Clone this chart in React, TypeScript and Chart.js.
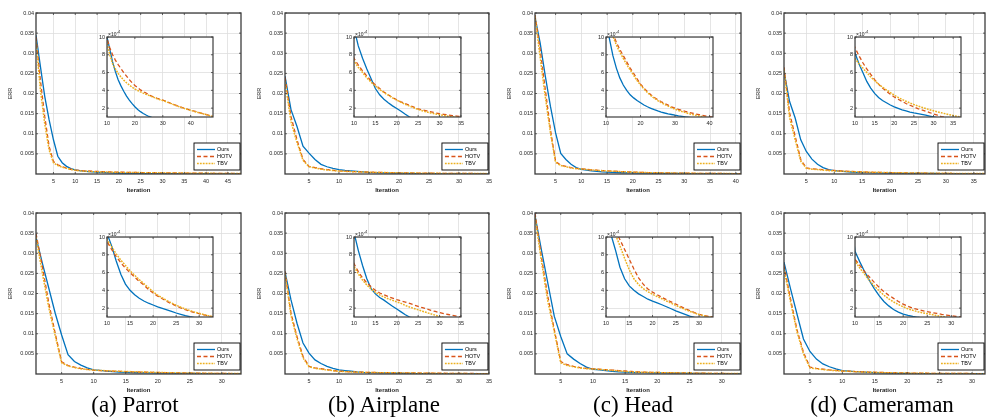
import React, { useEffect, useRef } from 'react';
import { Chart, registerables } from 'chart.js';

Chart.register(...registerables);

// ---------------- data ----------------
const SERIES_NAMES = ['Ours', 'HOTV', 'TBV'];
const ERR_TICKS = [0.005, 0.01, 0.015, 0.02, 0.025, 0.03, 0.035, 0.04];
const INSET_Y_TICKS = [0.0002, 0.0004, 0.0006, 0.0008, 0.001];
const CAPTIONS = ['(a) Parrot', '(b) Airplane', '(c) Head', '(d) Cameraman'];

// (a) Parrot, top row
const parrotTopOurs = [0.0345, 0.0268, 0.0193, 0.0135, 0.0085, 0.0044, 0.0028, 0.0019, 0.00135, 0.001, 0.00086, 0.00072, 0.00061, 0.00052, 0.00045, 0.00039, 0.000335, 0.00029, 0.00025, 0.000215, 0.000185, 0.00016, 0.00014, 0.000122, 0.000106, 0.000095, 0.000086, 0.000079, 0.000073, 0.000068, 0.000064, 0.00006, 0.000057, 0.000054, 0.000051, 0.000049, 0.000047, 0.000045, 0.000043, 0.000041, 0.000039, 0.000038, 0.000036, 0.000035, 0.000034, 0.000033, 0.000032, 0.000031];
const parrotTopHotv = [0.034, 0.0234, 0.0143, 0.0069, 0.0031, 0.0023, 0.0018, 0.00145, 0.00118, 0.00098, 0.00088, 0.0008, 0.00074, 0.00069, 0.000645, 0.0006, 0.00056, 0.00052, 0.000485, 0.000455, 0.00043, 0.000405, 0.000385, 0.00037, 0.00035, 0.000335, 0.000322, 0.00031, 0.0003, 0.00029, 0.000278, 0.000265, 0.000252, 0.00024, 0.000228, 0.000216, 0.000205, 0.000195, 0.000186, 0.000177, 0.000168, 0.00016, 0.00015, 0.000142, 0.000133, 0.000124, 0.000114, 0.000105];
const parrotTopTbv = [0.033, 0.021, 0.0125, 0.006, 0.0028, 0.0021, 0.0017, 0.0014, 0.00112, 0.00093, 0.0008, 0.0007, 0.00064, 0.00059, 0.00055, 0.000515, 0.000485, 0.00046, 0.000435, 0.000415, 0.000398, 0.000382, 0.000368, 0.000355, 0.000343, 0.00033, 0.000318, 0.000306, 0.000295, 0.000285, 0.000274, 0.000262, 0.00025, 0.000238, 0.000226, 0.000214, 0.000203, 0.000193, 0.000184, 0.000175, 0.000166, 0.000157, 0.000148, 0.00014, 0.000131, 0.000122, 0.000113, 0.000104];

// (b) Airplane, top row
const airplaneTopOurs = [0.0243, 0.016, 0.0118, 0.0069, 0.0052, 0.0036, 0.0024, 0.0018, 0.0014, 0.0011, 0.0009, 0.00076, 0.00064, 0.00053, 0.00042, 0.00035, 0.0003, 0.00026, 0.000225, 0.000195, 0.000165, 0.00013, 0.0001, 0.00008, 0.000068, 0.00006, 0.000054, 0.000049, 0.000045, 0.000042, 0.000039, 0.000037, 0.000035, 0.000033, 0.000031];
const airplaneTopHotv = [0.024, 0.0143, 0.0085, 0.0036, 0.0019, 0.0016, 0.0013, 0.0011, 0.00092, 0.00076, 0.000685, 0.00062, 0.00056, 0.000505, 0.00046, 0.00042, 0.000382, 0.00035, 0.00032, 0.000293, 0.00027, 0.00025, 0.00023, 0.00021, 0.00019, 0.00018, 0.00017, 0.000158, 0.000147, 0.000137, 0.00013, 0.000123, 0.000116, 0.00011, 0.000104];
const airplaneTopTbv = [0.023, 0.013, 0.0078, 0.0034, 0.0018, 0.0015, 0.0012, 0.001, 0.00087, 0.00073, 0.00066, 0.0006, 0.00054, 0.00049, 0.00045, 0.00041, 0.000375, 0.000345, 0.000315, 0.00029, 0.000265, 0.000242, 0.000222, 0.000203, 0.000185, 0.00017, 0.000157, 0.000145, 0.000134, 0.000125, 0.000117, 0.000109, 0.000102, 0.000096, 0.00009];

// (c) Head, top row
const headTopOurs = [0.039, 0.0326, 0.0243, 0.0168, 0.0102, 0.0051, 0.0036, 0.0024, 0.0016, 0.00118, 0.00098, 0.00079, 0.00065, 0.00054, 0.00046, 0.0004, 0.00035, 0.000315, 0.000285, 0.00026, 0.000235, 0.000215, 0.000198, 0.000182, 0.000168, 0.000155, 0.000145, 0.000136, 0.000128, 0.00012, 0.000113, 0.000107, 0.000101, 0.000096, 0.000091, 0.000087, 0.000083, 0.000079, 0.000076, 0.000073, 0.00007];
const headTopHotv = [0.0395, 0.0309, 0.021, 0.011, 0.0031, 0.0022, 0.0019, 0.0016, 0.0014, 0.00128, 0.00116, 0.00104, 0.00094, 0.00086, 0.00079, 0.00072, 0.00065, 0.00059, 0.00053, 0.00047, 0.000425, 0.000385, 0.00035, 0.00032, 0.000295, 0.000272, 0.000252, 0.000233, 0.000215, 0.0002, 0.000186, 0.000174, 0.000162, 0.000152, 0.000143, 0.000134, 0.000126, 0.000118, 0.00011, 0.000103, 0.000097];
const headTopTbv = [0.0392, 0.029, 0.0192, 0.0102, 0.0029, 0.0021, 0.0018, 0.0015, 0.0013, 0.00125, 0.00113, 0.00101, 0.00091, 0.00083, 0.00076, 0.00069, 0.00063, 0.00057, 0.00051, 0.00046, 0.000415, 0.000375, 0.00034, 0.00031, 0.000285, 0.000262, 0.000241, 0.000222, 0.000204, 0.000188, 0.000174, 0.000161, 0.000149, 0.000138, 0.000128, 0.000119, 0.000111, 0.000103, 0.000096, 0.00009, 0.000085];

// (d) Cameraman, top row
const cameraTopOurs = [0.0255, 0.018, 0.0139, 0.0085, 0.0056, 0.0037, 0.0024, 0.0016, 0.0011, 0.00082, 0.0007, 0.0006, 0.0005, 0.000425, 0.000365, 0.00032, 0.000285, 0.00026, 0.000235, 0.000215, 0.000197, 0.00018, 0.000168, 0.000156, 0.000146, 0.000138, 0.00013, 0.00012, 0.00011, 0.0001, 0.000092, 0.000085, 0.000079, 0.000073, 0.000068, 0.000064, 0.00006];
const cameraTopHotv = [0.0265, 0.0152, 0.0094, 0.0036, 0.0015, 0.0013, 0.0012, 0.0011, 0.00098, 0.00088, 0.00079, 0.00071, 0.00064, 0.00058, 0.00052, 0.00047, 0.000425, 0.00039, 0.000355, 0.000325, 0.0003, 0.000275, 0.000252, 0.000232, 0.000213, 0.000195, 0.00018, 0.000165, 0.00015, 0.000135, 0.00012, 0.000105, 0.000095, 0.000087, 0.00008, 0.000074, 0.000069];
const cameraTopTbv = [0.026, 0.014, 0.0085, 0.0032, 0.0014, 0.0012, 0.0011, 0.00095, 0.00085, 0.00076, 0.0007, 0.00065, 0.0006, 0.00055, 0.00051, 0.00047, 0.000435, 0.000405, 0.000375, 0.000345, 0.00032, 0.000297, 0.000277, 0.000258, 0.00024, 0.000224, 0.00021, 0.000195, 0.000182, 0.00017, 0.000158, 0.000147, 0.000136, 0.000126, 0.000116, 0.000107, 0.000099];

// (a) Parrot, bottom row
const parrotBotOurs = [0.034, 0.0275, 0.0213, 0.0151, 0.0097, 0.0048, 0.0031, 0.0022, 0.0015, 0.00104, 0.0009, 0.00073, 0.00058, 0.00047, 0.0004, 0.00035, 0.00031, 0.00028, 0.000255, 0.000235, 0.000215, 0.000198, 0.00018, 0.000162, 0.000145, 0.00013, 0.000115, 0.000103, 0.000093, 0.000085, 0.000078, 0.000072, 0.000066];
const parrotBotHotv = [0.0349, 0.0266, 0.0176, 0.0101, 0.003, 0.0021, 0.0017, 0.0014, 0.00115, 0.00095, 0.00086, 0.00078, 0.00071, 0.00065, 0.0006, 0.00055, 0.0005, 0.00046, 0.00041, 0.00037, 0.000335, 0.000305, 0.000275, 0.00025, 0.000225, 0.000202, 0.000182, 0.000165, 0.00015, 0.000138, 0.000125, 0.000112, 0.0001];
const parrotBotTbv = [0.034, 0.025, 0.0165, 0.0095, 0.0028, 0.002, 0.0016, 0.0013, 0.0011, 0.00097, 0.00089, 0.00081, 0.00074, 0.00068, 0.00062, 0.00057, 0.00052, 0.000475, 0.00043, 0.000385, 0.000345, 0.000315, 0.000285, 0.000258, 0.000232, 0.00021, 0.00019, 0.000172, 0.000155, 0.000142, 0.000128, 0.000115, 0.000102];

// (b) Airplane, bottom row
const airplaneBotOurs = [0.0254, 0.0184, 0.0126, 0.0077, 0.0052, 0.0035, 0.0026, 0.0019, 0.0014, 0.00105, 0.00085, 0.00068, 0.00053, 0.00042, 0.00036, 0.00032, 0.00029, 0.000255, 0.00022, 0.00019, 0.000158, 0.000125, 0.0001, 0.000085, 0.000075, 0.000067, 0.00006, 0.000055, 0.00005, 0.000046, 0.000043, 0.00004, 0.000038, 0.000036, 0.000034];
const airplaneBotHotv = [0.0255, 0.0151, 0.0093, 0.0044, 0.0019, 0.0015, 0.0013, 0.0011, 0.00085, 0.0007, 0.00061, 0.00054, 0.000485, 0.00044, 0.0004, 0.00037, 0.00035, 0.00033, 0.000312, 0.000295, 0.00028, 0.000268, 0.000252, 0.000236, 0.00022, 0.000205, 0.00019, 0.000175, 0.000162, 0.00015, 0.000138, 0.000128, 0.000118, 0.000109, 0.0001];
const airplaneBotTbv = [0.025, 0.0145, 0.0088, 0.004, 0.0018, 0.0014, 0.0012, 0.001, 0.00082, 0.00067, 0.000585, 0.000515, 0.00046, 0.000415, 0.000378, 0.000348, 0.000325, 0.000305, 0.000287, 0.00027, 0.000253, 0.00023, 0.000212, 0.000196, 0.00018, 0.000165, 0.00015, 0.000135, 0.00012, 0.000105, 0.000095, 0.000088, 0.000082, 0.000077, 0.000072];

// (c) Head, bottom row
const headBotOurs = [0.0394, 0.0308, 0.0225, 0.0143, 0.0093, 0.005, 0.0037, 0.0026, 0.0017, 0.00118, 0.00104, 0.00086, 0.00066, 0.00053, 0.00045, 0.0004, 0.00036, 0.00033, 0.0003, 0.000278, 0.000258, 0.000238, 0.000215, 0.000193, 0.00017, 0.00015, 0.00013, 0.00011, 0.000095, 0.000085, 0.000078, 0.000072, 0.000067];
const headBotHotv = [0.04, 0.029, 0.0192, 0.011, 0.0031, 0.0023, 0.0019, 0.0016, 0.0014, 0.00128, 0.00118, 0.00108, 0.00097, 0.00086, 0.00075, 0.00064, 0.00054, 0.00047, 0.000415, 0.00038, 0.00035, 0.000322, 0.000295, 0.00027, 0.000245, 0.00022, 0.000195, 0.000172, 0.00015, 0.00013, 0.000117, 0.000108, 0.0001];
const headBotTbv = [0.039, 0.028, 0.018, 0.0105, 0.0028, 0.0021, 0.0018, 0.0015, 0.0013, 0.00125, 0.00114, 0.00103, 0.0009, 0.00076, 0.00063, 0.00053, 0.000465, 0.00042, 0.000385, 0.000355, 0.00033, 0.000305, 0.00028, 0.000255, 0.00023, 0.000207, 0.000185, 0.000164, 0.000145, 0.000128, 0.000114, 0.000102, 0.000093];

// (d) Cameraman, bottom row
const cameraBotOurs = [0.0278, 0.0212, 0.0149, 0.0087, 0.0056, 0.0037, 0.0025, 0.0018, 0.0013, 0.00084, 0.00072, 0.00061, 0.00051, 0.00042, 0.00034, 0.000275, 0.000225, 0.000185, 0.000155, 0.000133, 0.000118, 0.000106, 0.000097, 0.00009, 0.000084, 0.000079, 0.000074, 0.00007, 0.000066, 0.000063, 0.00006, 0.000057];
const cameraBotHotv = [0.027, 0.0187, 0.011, 0.0054, 0.0017, 0.0014, 0.0012, 0.001, 0.00088, 0.00075, 0.00068, 0.00061, 0.00055, 0.00049, 0.000435, 0.000385, 0.000345, 0.00031, 0.000275, 0.000245, 0.00022, 0.0002, 0.000185, 0.000172, 0.00016, 0.00015, 0.00014, 0.00013, 0.000122, 0.000114, 0.000106, 0.0001];
const cameraBotTbv = [0.026, 0.018, 0.0105, 0.005, 0.0015, 0.0013, 0.0011, 0.00095, 0.00083, 0.00073, 0.00065, 0.00058, 0.00051, 0.00045, 0.000395, 0.000345, 0.000305, 0.00027, 0.00024, 0.000215, 0.000192, 0.000175, 0.00016, 0.000148, 0.000137, 0.000127, 0.000115, 0.000105, 0.000097, 0.00009, 0.000084, 0.000078];

// tick labels
const X5_45 = [5, 10, 15, 20, 25, 30, 35, 40, 45];
const X5_40 = [5, 10, 15, 20, 25, 30, 35, 40];
const X5_35 = [5, 10, 15, 20, 25, 30, 35];
const X5_30 = [5, 10, 15, 20, 25, 30];
const IX_10_40 = [10, 20, 30, 40];
const IX_10_35 = [10, 15, 20, 25, 30, 35];
const IX_10_30 = [10, 15, 20, 25, 30];

const PANELS = [
  { series: [parrotTopOurs, parrotTopHotv, parrotTopTbv], xTicks: X5_45, insetTicks: IX_10_40 },
  { series: [airplaneTopOurs, airplaneTopHotv, airplaneTopTbv], xTicks: X5_35, insetTicks: IX_10_35 },
  { series: [headTopOurs, headTopHotv, headTopTbv], xTicks: X5_40, insetTicks: IX_10_40 },
  { series: [cameraTopOurs, cameraTopHotv, cameraTopTbv], xTicks: X5_35, insetTicks: IX_10_35 },
  { series: [parrotBotOurs, parrotBotHotv, parrotBotTbv], xTicks: X5_30, insetTicks: IX_10_30 },
  { series: [airplaneBotOurs, airplaneBotHotv, airplaneBotTbv], xTicks: X5_35, insetTicks: IX_10_35 },
  { series: [headBotOurs, headBotHotv, headBotTbv], xTicks: X5_30, insetTicks: IX_10_30 },
  { series: [cameraBotOurs, cameraBotHotv, cameraBotTbv], xTicks: X5_30, insetTicks: IX_10_30 },
];

// ---------------- layout & style ----------------
const PLOT_X = [[36, 241], [285, 490], [535, 741], [784, 985]];
const PLOT_Y = [[13, 174], [213, 374]];
const INSET_X = [[107, 213], [354, 463], [606, 713], [855, 961]];
const INSET_Y = [[37, 117], [237, 317]];
const CAPTION_X = [135, 384, 633, 882];
const CAPTION_TOP = 393;

const LINE_STYLES = [
  { color: '#0072BD', dash: [] as number[], order: 3, width: 1.3 },
  { color: '#D95319', dash: [4, 2.5], order: 2, width: 1.3 },
  { color: '#EDB120', dash: [1.8, 1.1], order: 1, width: 1.5 },
];
const FONT = 'Liberation Sans, Arial, Helvetica, sans-serif';
const TEXT_COLOR = '#262626';
const GRID_COLOR = '#dedede';
const BOX_COLOR = '#3c3c3c';

function makeDatasets(series: number[][]) {
  return series.map((arr, i) => ({
    label: SERIES_NAMES[i],
    data: arr.map((v, k) => ({ x: k + 1, y: v })),
    borderColor: LINE_STYLES[i].color,
    backgroundColor: LINE_STYLES[i].color,
    borderDash: LINE_STYLES[i].dash,
    borderWidth: LINE_STYLES[i].width,
    pointRadius: 0,
    tension: 0,
    fill: false,
    order: LINE_STYLES[i].order,
    clip: 0,
  }));
}

function framePlugin(kind: 'main' | 'inset') {
  return {
    id: 'frame_' + kind,
    beforeDraw(chart: any) {
      if (kind !== 'inset') return;
      const { ctx, chartArea: a } = chart;
      ctx.save();
      ctx.fillStyle = '#ffffff';
      ctx.fillRect(a.left, a.top, a.right - a.left, a.bottom - a.top);
      ctx.restore();
    },
    afterDatasetsDraw(chart: any) {
      const { ctx, chartArea: a } = chart;
      ctx.save();
      ctx.strokeStyle = BOX_COLOR;
      ctx.lineWidth = kind === 'main' ? 1.3 : 1.2;
      ctx.strokeRect(a.left, a.top, a.right - a.left, a.bottom - a.top);
      ctx.lineWidth = 0.8;
      const tl = 2;
      const xs = chart.scales.x;
      const ys = chart.scales.y;
      ctx.beginPath();
      xs.ticks.forEach((t: any) => {
        const px = xs.getPixelForValue(t.value);
        ctx.moveTo(px, a.bottom); ctx.lineTo(px, a.bottom - tl);
        ctx.moveTo(px, a.top); ctx.lineTo(px, a.top + tl);
      });
      ys.ticks.forEach((t: any) => {
        const py = ys.getPixelForValue(t.value);
        ctx.moveTo(a.left, py); ctx.lineTo(a.left + tl, py);
        ctx.moveTo(a.right, py); ctx.lineTo(a.right - tl, py);
      });
      ctx.stroke();
      ctx.restore();
    },
    afterDraw(chart: any) {
      const { ctx, chartArea: a } = chart;
      ctx.save();
      if (kind === 'main') {
        const bw = 46, bh = 27;
        const bx = a.right - 1 - bw;
        const by = a.bottom - 4 - bh;
        ctx.fillStyle = '#ffffff';
        ctx.fillRect(bx, by, bw, bh);
        ctx.strokeStyle = '#000000';
        ctx.lineWidth = 0.9;
        ctx.strokeRect(bx, by, bw, bh);
        chart.data.datasets.forEach((ds: any, i: number) => {
          const y = by + 6.5 + i * 7;
          ctx.strokeStyle = ds.borderColor;
          ctx.lineWidth = ds.borderWidth;
          ctx.setLineDash(ds.borderDash || []);
          ctx.beginPath();
          ctx.moveTo(bx + 3, y);
          ctx.lineTo(bx + 21, y);
          ctx.stroke();
          ctx.setLineDash([]);
          ctx.fillStyle = '#000000';
          ctx.font = `5.5px ${FONT}`;
          ctx.textBaseline = 'middle';
          ctx.textAlign = 'left';
          ctx.fillText(ds.label, bx + 23, y);
        });
      } else {
        ctx.fillStyle = TEXT_COLOR;
        ctx.textBaseline = 'alphabetic';
        ctx.textAlign = 'left';
        ctx.font = `5px ${FONT}`;
        const base = '\u00d710';
        ctx.fillText(base, a.left + 1, a.top - 1.5);
        const w = ctx.measureText(base).width;
        ctx.font = `4px ${FONT}`;
        ctx.fillText('-4', a.left + 1 + w + 0.3, a.top - 4);
      }
      ctx.restore();
    },
  };
}

function mainConfig(p: any) {
  const n = p.series[0].length;
  return {
    type: 'line',
    data: { datasets: makeDatasets(p.series) },
    options: {
      animation: false,
      responsive: false,
      events: [],
      layout: { padding: { top: 6, right: 6, left: 0, bottom: 0 } },
      plugins: { legend: { display: false }, tooltip: { enabled: false }, title: { display: false } },
      scales: {
        x: {
          type: 'linear', min: 1, max: n,
          afterBuildTicks: (s: any) => { s.ticks = p.xTicks.map((v: number) => ({ value: v })); },
          afterFit: (s: any) => { s.height = 20; },
          grid: { color: GRID_COLOR, lineWidth: 0.8, drawTicks: false },
          border: { display: false },
          ticks: { font: { family: FONT, size: 5.5 }, color: TEXT_COLOR, padding: 4, maxRotation: 0, autoSkip: false, callback: (v: number) => String(v) },
          title: { display: true, text: 'Iteration', color: TEXT_COLOR, font: { family: FONT, size: 6, weight: 'bold' }, padding: 0 },
        },
        y: {
          type: 'linear', min: 0, max: 0.04,
          afterBuildTicks: (s: any) => { s.ticks = ERR_TICKS.map((v) => ({ value: v })); },
          afterFit: (s: any) => { s.width = 36; },
          grid: { color: GRID_COLOR, lineWidth: 0.8, drawTicks: false },
          border: { display: false },
          ticks: { font: { family: FONT, size: 5.5 }, color: TEXT_COLOR, padding: 2, autoSkip: false, callback: (v: number) => String(Number(v.toFixed(3))) },
          title: { display: true, text: 'ERR', color: TEXT_COLOR, font: { family: FONT, size: 5.5 }, padding: { top: 7, bottom: 0 } },
        },
      },
    },
    plugins: [framePlugin('main')],
  };
}

function insetConfig(p: any) {
  const n = p.series[0].length;
  return {
    type: 'line',
    data: { datasets: makeDatasets(p.series) },
    options: {
      animation: false,
      responsive: false,
      events: [],
      layout: { padding: { top: 8, right: 4, left: 0, bottom: 0 } },
      plugins: { legend: { display: false }, tooltip: { enabled: false }, title: { display: false } },
      scales: {
        x: {
          type: 'linear', min: 10, max: n,
          afterBuildTicks: (s: any) => { s.ticks = p.insetTicks.map((v: number) => ({ value: v })); },
          afterFit: (s: any) => { s.height = 10; },
          grid: { color: GRID_COLOR, lineWidth: 0.8, drawTicks: false },
          border: { display: false },
          ticks: { font: { family: FONT, size: 5.5 }, color: TEXT_COLOR, padding: 3, maxRotation: 0, autoSkip: false, callback: (v: number) => String(v) },
        },
        y: {
          type: 'linear', min: 0.0001, max: 0.001,
          afterBuildTicks: (s: any) => { s.ticks = INSET_Y_TICKS.map((v) => ({ value: v })); },
          afterFit: (s: any) => { s.width = 14; },
          grid: { color: GRID_COLOR, lineWidth: 0.8, drawTicks: false },
          border: { display: false },
          ticks: { font: { family: FONT, size: 5.5 }, color: TEXT_COLOR, padding: 2, autoSkip: false, callback: (v: number) => String(Math.round(v * 10000)) },
        },
      },
    },
    plugins: [framePlugin('inset')],
  };
}

function ChartCanvas({ config, left, top, width, height, z }: any) {
  const ref = useRef<HTMLCanvasElement | null>(null);
  useEffect(() => {
    if (!ref.current) return;
    const chart = new Chart(ref.current, config);
    return () => chart.destroy();
  }, [config]);
  return (
    <canvas
      ref={ref}
      width={width}
      height={height}
      style={{ position: 'absolute', left, top, width, height, zIndex: z }}
    />
  );
}

const MAIN_CONFIGS = PANELS.map((p) => mainConfig(p));
const INSET_CONFIGS = PANELS.map((p) => insetConfig(p));

export default function App() {
  return (
    <div style={{ position: 'absolute', left: 0, top: 0, width: 986, height: 419, background: '#fff', overflow: 'hidden' }}>
      {PANELS.map((p, i) => {
        const col = i % 4;
        const row = Math.floor(i / 4);
        const [L, R] = PLOT_X[col];
        const [T, B] = PLOT_Y[row];
        return (
          <ChartCanvas
            key={'m' + i}
            config={MAIN_CONFIGS[i]}
            left={L - 36}
            top={T - 6}
            width={R - L + 42}
            height={B - T + 26}
            z={1}
          />
        );
      })}
      {PANELS.map((p, i) => {
        const col = i % 4;
        const row = Math.floor(i / 4);
        const [L, R] = INSET_X[col];
        const [T, B] = INSET_Y[row];
        return (
          <ChartCanvas
            key={'i' + i}
            config={INSET_CONFIGS[i]}
            left={L - 14}
            top={T - 8}
            width={R - L + 18}
            height={B - T + 18}
            z={2}
          />
        );
      })}
      {CAPTIONS.map((c, i) => (
        <div
          key={'c' + i}
          style={{
            position: 'absolute', left: CAPTION_X[i] - 110, top: CAPTION_TOP, width: 220,
            textAlign: 'center', fontFamily: '"Liberation Serif", "Times New Roman", serif',
            fontSize: 23, lineHeight: '23px', color: '#000', zIndex: 3, whiteSpace: 'nowrap',
          }}
        >
          {c}
        </div>
      ))}
    </div>
  );
}
